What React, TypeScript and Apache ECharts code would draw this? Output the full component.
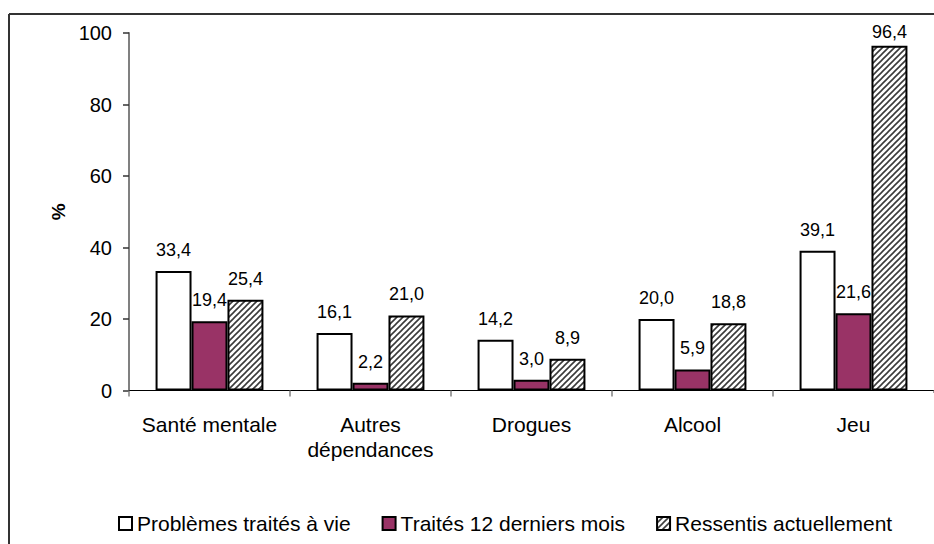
import React, { useEffect, useRef } from "react";
import * as echarts from "echarts";

const categories = ["Santé mentale", "Autres\ndépendances", "Drogues", "Alcool", "Jeu"];
const seriesNames = ["Problèmes traités à vie", "Traités 12 derniers mois", "Ressentis actuellement"];
const traitesVie = [33.4, 16.1, 14.2, 20.0, 39.1];
const traites12 = [19.4, 2.2, 3.0, 5.9, 21.6];
const ressentis = [25.4, 21.0, 8.9, 18.8, 96.4];
const yTicks = { min: 0, max: 100, interval: 20 };

const FONT = "'Liberation Sans', Arial, sans-serif";

const hatchSvg =
  "<svg xmlns='http://www.w3.org/2000/svg' width='6' height='6'>" +
  "<rect width='6' height='6' fill='white'/>" +
  "<path d='M0,6 L6,0 M-1,1 L1,-1 M5,7 L7,5' stroke='#3a3a3a' stroke-width='1.6'/>" +
  "</svg>";
const hatchUrl = "data:image/svg+xml;charset=utf-8," + encodeURIComponent(hatchSvg);

const fmt = (v: number) => v.toFixed(1).replace(".", ",");

export default function App() {
  const ref = useRef<HTMLDivElement>(null);
  useEffect(() => {
    if (!ref.current) return;
    const chart = echarts.init(ref.current, undefined, { renderer: "svg" });
    const label = {
      show: true,
      position: "top" as const,
      distance: 12,
      color: "#000",
      fontSize: 18,
      fontFamily: FONT,
      formatter: (p: any) => fmt(p.value),
    };
    const mk = (vals: number[]) =>
      vals.map((v) => (v > 90 ? { value: v, label: { distance: 5 } } : v));
    chart.setOption({
      animation: false,
      textStyle: { fontFamily: FONT },
      graphic: [
        {
          type: "rect",
          z: 50,
          shape: { x: 926, y: 16, width: 20, height: 372 },
          style: { fill: "#fff" },
          silent: true,
        },
        {
          type: "rect",
          z: 50,
          shape: { x: 926, y: 393, width: 20, height: 200 },
          style: { fill: "#fff" },
          silent: true,
        },
        {
          type: "line",
          z: 60,
          shape: { x1: 9, y1: 14, x2: 940, y2: 14 },
          style: { stroke: "#333", lineWidth: 2 },
          silent: true,
        },
        {
          type: "line",
          z: 60,
          shape: { x1: 9, y1: 14, x2: 9, y2: 550 },
          style: { stroke: "#333", lineWidth: 2 },
          silent: true,
        },
      ],
      legend: {
        left: 113,
        top: 508,
        itemWidth: 13,
        itemHeight: 13,
        itemGap: 31,
        icon: "rect",
        textStyle: {
          fontSize: 21,
          color: "#000",
          fontFamily: FONT,
        },
        data: seriesNames,
      },
      grid: { left: 129, top: 33, right: -9, bottom: 153.5 },
      xAxis: {
        type: "category",
        data: categories,
        boundaryGap: true,
        axisLine: { lineStyle: { color: "#000", width: 1 } },
        axisTick: { show: true, length: 6, lineStyle: { color: "#808080", width: 1.5 } },
        axisLabel: {
          interval: 0,
          margin: 21,
          fontSize: 21,
          lineHeight: 25,
          color: "#000",
          fontFamily: FONT,
        },
      },
      yAxis: {
        type: "value",
        min: yTicks.min,
        max: yTicks.max,
        interval: yTicks.interval,
        name: "%",
        nameLocation: "middle",
        nameRotate: 90,
        nameGap: 60,
        nameTextStyle: { fontSize: 19, fontWeight: "bold", color: "#000", fontFamily: FONT },
        splitLine: { show: false },
        axisLine: { show: true, lineStyle: { color: "#808080", width: 2 } },
        axisTick: { show: true, length: 6, lineStyle: { color: "#333", width: 1.5 } },
        axisLabel: { margin: 17, fontSize: 20, color: "#000", fontFamily: FONT },
      },
      series: [
        {
          name: seriesNames[0],
          type: "bar",
          data: mk(traitesVie),
          barGap: "0%",
          barCategoryGap: "33%",
          itemStyle: { color: "#fff", borderColor: "#000", borderWidth: 2 },
          label,
        },
        {
          name: seriesNames[1],
          type: "bar",
          data: mk(traites12),
          barGap: "0%",
          barCategoryGap: "33%",
          itemStyle: { color: "#993366", borderColor: "#000", borderWidth: 2 },
          label,
        },
        {
          name: seriesNames[2],
          type: "bar",
          data: mk(ressentis),
          barGap: "0%",
          barCategoryGap: "33%",
          itemStyle: {
            color: { image: hatchUrl, repeat: "repeat" },
            borderColor: "#000",
            borderWidth: 2,
          },
          label,
        },
      ],
    });
    return () => chart.dispose();
  }, []);
  return (
    <div
      ref={ref}
      style={{ position: "absolute", left: 0, top: 0, width: 934, height: 544, overflow: "hidden", background: "#fff" }}
    />
  );
}
